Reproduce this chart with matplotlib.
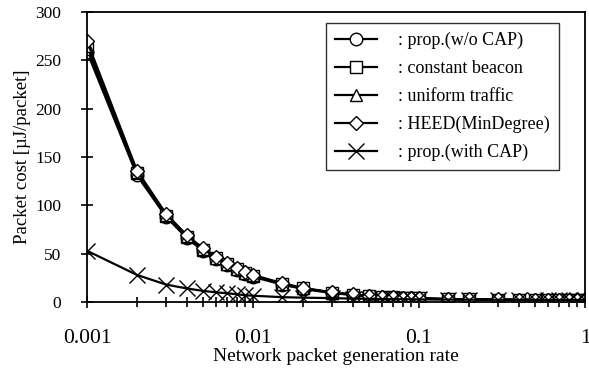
import matplotlib
matplotlib.use("Agg")
import matplotlib.pyplot as plt
from matplotlib.ticker import FixedLocator, NullFormatter

plt.rcParams["font.family"] = ["Liberation Serif", "DejaVu Serif"]

rate = [0.001, 0.002, 0.003, 0.004, 0.005, 0.006, 0.007, 0.008, 0.009, 0.01,
        0.015, 0.02, 0.03, 0.04, 0.05, 0.06, 0.07, 0.08, 0.09, 0.1,
        0.15, 0.2, 0.3, 0.4, 0.5, 0.6, 0.7, 0.8, 0.9, 1.0]

prop_wo_cap = [259, 131, 88, 66, 53, 44, 38, 33, 29, 26,
               18, 13.5, 9.2, 7.2, 5.9, 5.1, 4.5, 4.1, 3.8, 3.5,
               2.8, 2.5, 2.2, 2.1, 2.0, 1.9, 1.9, 1.8, 1.8, 1.8]
constant_beacon = [262, 133, 89, 67, 54, 45, 39, 34, 30, 27,
                   18.5, 14, 9.6, 7.5, 6.2, 5.3, 4.8, 4.3, 4.0, 3.7,
                   3.0, 2.7, 2.4, 2.3, 2.2, 2.1, 2.1, 2.0, 2.0, 2.0]
uniform_traffic = [265, 134, 90, 68, 55, 46, 39.5, 34.5, 30.5, 27.5,
                   19, 14.3, 9.8, 7.6, 6.3, 5.4, 4.8, 4.4, 4.0, 3.8,
                   3.0, 2.7, 2.5, 2.3, 2.2, 2.2, 2.1, 2.1, 2.0, 2.0]
heed = [270, 136, 91, 69, 55.5, 46.5, 40, 35, 31, 28,
        19.5, 14.6, 10, 7.8, 6.5, 5.6, 5.0, 4.5, 4.2, 3.9,
        3.1, 2.8, 2.6, 2.4, 2.3, 2.2, 2.2, 2.1, 2.1, 2.1]
prop_with_cap = [53, 28, 18, 14, 11.5, 10, 9, 8, 7, 6.5,
                 5, 4.5, 4, 3.5, 3.3, 3.1, 3.0, 2.9, 2.8, 2.7,
                 2.5, 2.4, 2.3, 2.2, 2.2, 2.1, 2.1, 2.1, 2.0, 2.0]

series = [
    (prop_wo_cap, "o", ": prop.(w/o CAP)"),
    (constant_beacon, "s", ": constant beacon"),
    (uniform_traffic, "^", ": uniform traffic"),
    (heed, "D", ": HEED(MinDegree)"),
    (prop_with_cap, "x", ": prop.(with CAP)"),
]

fig = plt.figure(figsize=(5.89, 3.74), dpi=100)
ax = fig.add_axes([0.1477, 0.1925, 0.8455, 0.7755])

for values, marker, label in series:
    size = 7 if marker == "D" else 9
    if marker == "x":
        size = 11
    ax.plot(rate, values, color="black", lw=1.6, marker=marker,
            markersize=size, markerfacecolor="white",
            markeredgecolor="black", markeredgewidth=1.0, label=label)

ax.set_xscale("log")
ax.set_xlim(0.001, 1)
ax.set_ylim(0, 300)
ax.set_yticks(range(0, 301, 50))
ax.xaxis.set_major_locator(FixedLocator([0.001, 0.01, 0.1, 1]))
ax.set_xticklabels(["0.001", "0.01", "0.1", "1"])
minor = [m * d for d in (0.001, 0.01, 0.1) for m in range(2, 10)]
ax.xaxis.set_minor_locator(FixedLocator(minor))
ax.xaxis.set_minor_formatter(NullFormatter())

ax.tick_params(axis="both", which="major", direction="inout", length=9,
               width=1.2, colors="black")
ax.tick_params(axis="x", which="minor", direction="inout", length=7,
               width=1.2)
ax.tick_params(axis="x", labelsize=15.5, pad=15)
ax.tick_params(axis="y", labelsize=12.5, pad=14)
for spine in ax.spines.values():
    spine.set_linewidth(1.3)

ax.set_xlabel("Network packet generation rate", fontsize=14, labelpad=0)
ax.set_ylabel("Packet cost [\u00b5J/packet]", fontsize=13.5, labelpad=3)

leg = ax.legend(loc="upper right", bbox_to_anchor=(0.948, 0.962),
                fontsize=13, frameon=True, fancybox=False, handlelength=2.3,
                borderaxespad=0, labelspacing=0.6, handletextpad=1.2,
                borderpad=0.5)
leg.get_frame().set_edgecolor("black")
leg.get_frame().set_linewidth(1.0)

fig.savefig("out.png", dpi=100)
